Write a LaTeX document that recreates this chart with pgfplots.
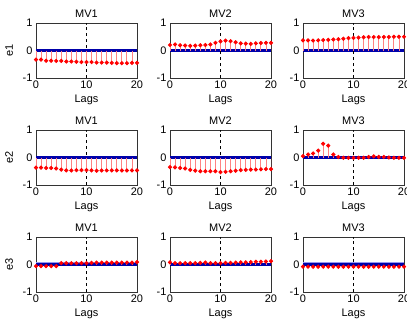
\documentclass[border=0pt]{standalone}
\usepackage{pgfplots}
\pgfplotsset{compat=1.18}
\usepackage{fontspec}
\setmainfont{Liberation Sans}
\definecolor{navy}{RGB}{0,0,170}
\definecolor{stemc}{RGB}{255,130,130}
\definecolor{band}{RGB}{150,150,240}
\newcommand{\pf}{\fontsize{11}{13}\selectfont}
\pgfplotsset{
  panel/.style={
    width=101bp, height=55bp, scale only axis,
    anchor=north west,
    xmin=0, xmax=20, ymin=-1, ymax=1,
    xtick={0,10,20}, ytick={-1,0,1},
    xlabel={Lags},
    tick align=inside, major tick length=2bp,
    axis line style={black!80}, tick style={black!80},
    /pgf/number format/assume math mode=true,
    tick label style={font=\pf},
    label style={font=\pf},
    title style={font=\pf, yshift=-4bp},
    xlabel style={yshift=0bp},
    ylabel style={yshift=3bp},
    xticklabel style={yshift=1bp},
    clip=true,
  },
  zeroline/.style={navy, line width=2.1pt, forget plot},
  stems/.style={ycomb, draw=stemc, line width=0.9pt, mark=*, mark size=1.6pt, mark options={draw=red, fill=red}},
  vline/.style={black, dashed, line width=0.6pt},
}
\begin{document}
\begin{tikzpicture}
\useasboundingbox (0,0) rectangle (407bp,-324bp);
% ---------- Row 1 ----------
\begin{axis}[panel, at={(36bp,-23bp)}, title={MV1}, ylabel={e1}]
\addplot[zeroline] coordinates {(0,0) (20,0)};
\addplot[vline] coordinates {(10,-1) (10,1)};
\addplot[stems] coordinates {(0,-0.33)(1,-0.33)(2,-0.37)(3,-0.37)(4,-0.38)(5,-0.38)(6,-0.40)(7,-0.40)(8,-0.41)(9,-0.42)(10,-0.42)(11,-0.42)(12,-0.44)(13,-0.44)(14,-0.44)(15,-0.45)(16,-0.46)(17,-0.46)(18,-0.46)(19,-0.45)(20,-0.45)};
\end{axis}
\begin{axis}[panel, at={(170bp,-23bp)}, title={MV2}]
\addplot[zeroline] coordinates {(0,0) (20,0)};
\addplot[vline] coordinates {(10,-1) (10,1)};
\addplot[stems] coordinates {(0,0.20)(1,0.22)(2,0.19)(3,0.18)(4,0.17)(5,0.18)(6,0.19)(7,0.20)(8,0.22)(9,0.28)(10,0.33)(11,0.36)(12,0.34)(13,0.30)(14,0.26)(15,0.25)(16,0.24)(17,0.26)(18,0.27)(19,0.28)(20,0.28)};
\end{axis}
\begin{axis}[panel, at={(303bp,-23bp)}, title={MV3}]
\addplot[zeroline] coordinates {(0,0) (20,0)};
\addplot[vline] coordinates {(10,-1) (10,1)};
\addplot[stems] coordinates {(0,0.37)(1,0.37)(2,0.36)(3,0.37)(4,0.38)(5,0.39)(6,0.40)(7,0.41)(8,0.43)(9,0.45)(10,0.46)(11,0.47)(12,0.48)(13,0.49)(14,0.49)(15,0.49)(16,0.49)(17,0.49)(18,0.50)(19,0.50)(20,0.50)};
\end{axis}
% ---------- Row 2 ----------
\begin{axis}[panel, at={(36bp,-130bp)}, title={MV1}, ylabel={e2}]
\addplot[zeroline] coordinates {(0,0) (20,0)};
\addplot[vline] coordinates {(10,-1) (10,1)};
\addplot[stems] coordinates {(0,-0.37)(1,-0.37)(2,-0.38)(3,-0.38)(4,-0.40)(5,-0.44)(6,-0.47)(7,-0.47)(8,-0.46)(9,-0.46)(10,-0.46)(11,-0.47)(12,-0.48)(13,-0.47)(14,-0.47)(15,-0.47)(16,-0.47)(17,-0.47)(18,-0.47)(19,-0.47)(20,-0.47)};
\end{axis}
\begin{axis}[panel, at={(170bp,-130bp)}, title={MV2}]
\addplot[zeroline] coordinates {(0,0) (20,0)};
\addplot[vline] coordinates {(10,-1) (10,1)};
\addplot[stems] coordinates {(0,-0.35)(1,-0.36)(2,-0.38)(3,-0.40)(4,-0.45)(5,-0.48)(6,-0.50)(7,-0.50)(8,-0.50)(9,-0.50)(10,-0.53)(11,-0.52)(12,-0.50)(13,-0.48)(14,-0.46)(15,-0.45)(16,-0.44)(17,-0.44)(18,-0.43)(19,-0.42)(20,-0.42)};
\end{axis}
\begin{axis}[panel, at={(303bp,-130bp)}, title={MV3}]
\addplot[zeroline] coordinates {(0,0) (20,0)};
\addplot[vline] coordinates {(10,-1) (10,1)};
\addplot[stems] coordinates {(0,0.05)(1,0.11)(2,0.15)(3,0.25)(4,0.50)(5,0.43)(6,0.11)(7,0.02)(8,-0.01)(9,-0.01)(10,-0.01)(11,-0.01)(12,-0.01)(13,0.02)(14,0.04)(15,0.02)(16,0.02)(17,0.00)(18,-0.01)(19,-0.01)(20,-0.01)};
\end{axis}
% ---------- Row 3 ----------
\begin{axis}[panel, at={(36bp,-237bp)}, title={MV1}, ylabel={e3}]
\addplot[draw=none, fill=band, forget plot] coordinates {(0,0) (20,0) (20,0.08) (0,0.08)} -- cycle;
\addplot[zeroline] coordinates {(0,0) (20,0)};
\addplot[vline] coordinates {(10,-1) (10,1)};
\addplot[stems] coordinates {(0,-0.06)(1,-0.06)(2,-0.06)(3,-0.06)(4,-0.06)(5,0.05)(6,0.05)(7,0.05)(8,0.05)(9,0.05)(10,0.05)(11,0.06)(12,0.07)(13,0.07)(14,0.07)(15,0.07)(16,0.07)(17,0.07)(18,0.07)(19,0.07)(20,0.09)};
\end{axis}
\begin{axis}[panel, at={(170bp,-237bp)}, title={MV2}]
\addplot[draw=none, fill=band, forget plot] coordinates {(0,0) (20,0) (20,0.07) (0,0.07)} -- cycle;
\addplot[zeroline] coordinates {(0,0) (20,0)};
\addplot[vline] coordinates {(10,-1) (10,1)};
\addplot[stems] coordinates {(0,0.08)(1,0.05)(2,0.05)(3,0.05)(4,0.05)(5,0.05)(6,0.06)(7,0.07)(8,0.05)(9,0.05)(10,0.05)(11,0.06)(12,0.06)(13,0.07)(14,0.08)(15,0.08)(16,0.09)(17,0.10)(18,0.10)(19,0.11)(20,0.12)};
\end{axis}
\begin{axis}[panel, at={(303bp,-237bp)}, title={MV3}]
\addplot[draw=none, fill=band, forget plot] coordinates {(0,0) (20,0) (20,0.09) (0,0.09)} -- cycle;
\addplot[zeroline] coordinates {(0,0) (20,0)};
\addplot[vline] coordinates {(10,-1) (10,1)};
\addplot[stems] coordinates {(0,-0.08)(1,-0.08)(2,-0.08)(3,-0.08)(4,-0.08)(5,-0.08)(6,-0.08)(7,-0.08)(8,-0.08)(9,-0.08)(10,-0.08)(11,-0.08)(12,-0.08)(13,-0.08)(14,-0.08)(15,-0.08)(16,-0.08)(17,-0.08)(18,-0.08)(19,-0.08)(20,-0.08)};
\end{axis}
\end{tikzpicture}
\end{document}
